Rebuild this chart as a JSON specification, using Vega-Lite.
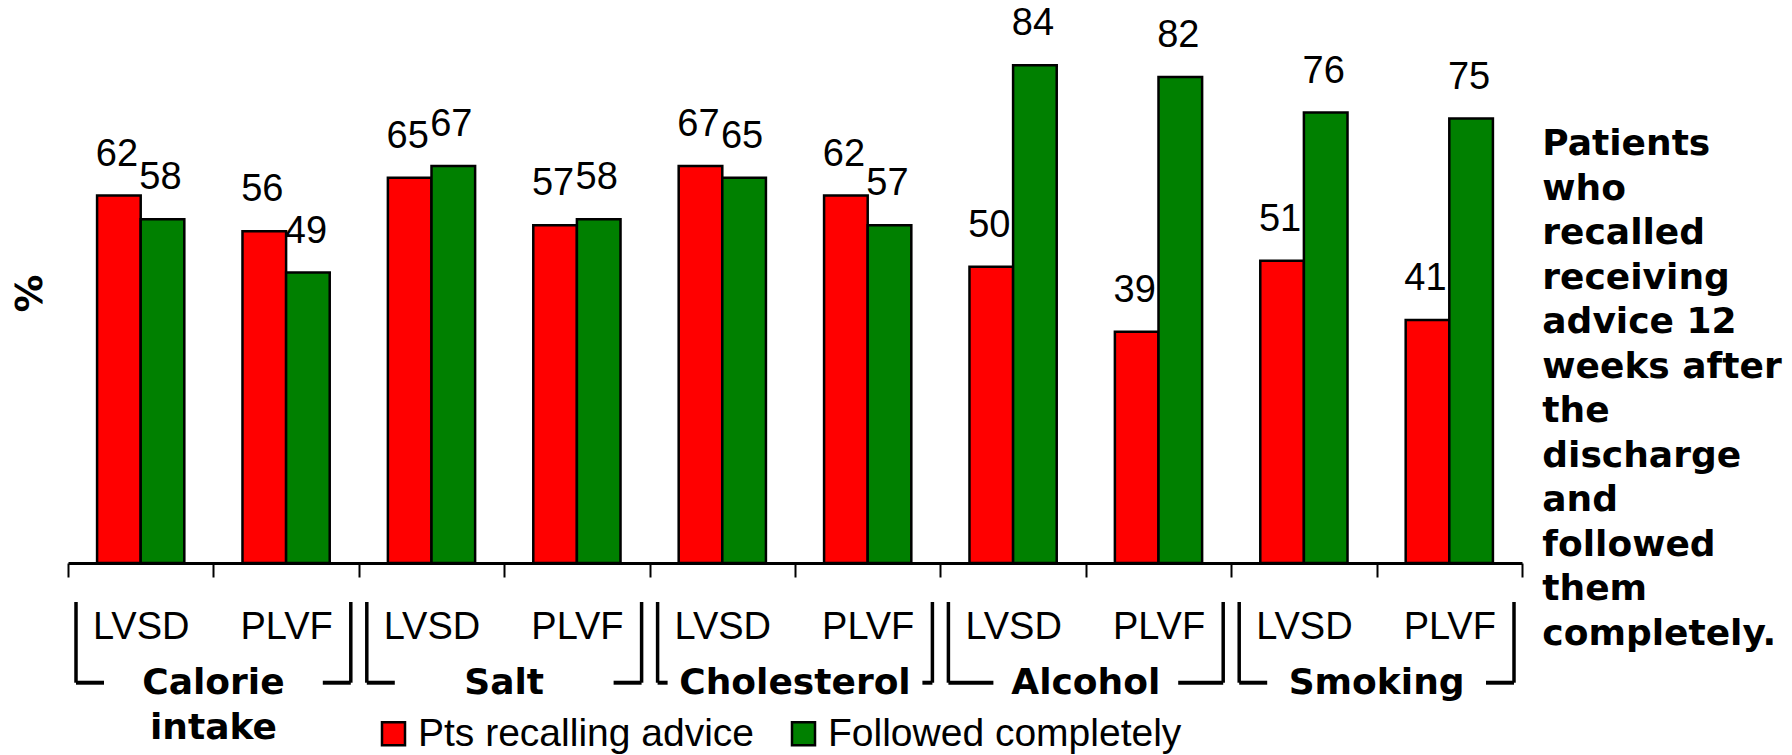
{
  "$schema": "https://vega.github.io/schema/vega-lite/v6.json",
  "autosize": {"type": "none"},
  "padding": {"left": 68, "top": 0, "right": 270, "bottom": 192},
  "width": 1454,
  "height": 563,
  "background": "white",
  "config": {"view": {"stroke": null}, "font": "Liberation Sans"},
  "title": {
    "text": ["Patients", "who", "recalled", "receiving", "advice 12", "weeks after", "the", "discharge", "and", "followed", "them", "completely."],
    "orient": "right",
    "angle": 0,
    "anchor": "start",
    "align": "left",
    "baseline": "alphabetic",
    "font": "DejaVu Sans",
    "fontSize": 36,
    "fontWeight": "bold",
    "lineHeight": 44.5,
    "offset": 23,
    "dx": -243,
    "dy": 155,
    "color": "black"
  },
  "datasets": {
    "bars": [
      {"group": "Calorie intake", "pos": "Calorie intake/LVSD", "series": "Pts recalling advice", "value": 62},
      {"group": "Calorie intake", "pos": "Calorie intake/LVSD", "series": "Followed completely", "value": 58},
      {"group": "Calorie intake", "pos": "Calorie intake/PLVF", "series": "Pts recalling advice", "value": 56},
      {"group": "Calorie intake", "pos": "Calorie intake/PLVF", "series": "Followed completely", "value": 49},
      {"group": "Salt", "pos": "Salt/LVSD", "series": "Pts recalling advice", "value": 65},
      {"group": "Salt", "pos": "Salt/LVSD", "series": "Followed completely", "value": 67},
      {"group": "Salt", "pos": "Salt/PLVF", "series": "Pts recalling advice", "value": 57},
      {"group": "Salt", "pos": "Salt/PLVF", "series": "Followed completely", "value": 58},
      {"group": "Cholesterol", "pos": "Cholesterol/LVSD", "series": "Pts recalling advice", "value": 67},
      {"group": "Cholesterol", "pos": "Cholesterol/LVSD", "series": "Followed completely", "value": 65},
      {"group": "Cholesterol", "pos": "Cholesterol/PLVF", "series": "Pts recalling advice", "value": 62},
      {"group": "Cholesterol", "pos": "Cholesterol/PLVF", "series": "Followed completely", "value": 57},
      {"group": "Alcohol", "pos": "Alcohol/LVSD", "series": "Pts recalling advice", "value": 50},
      {"group": "Alcohol", "pos": "Alcohol/LVSD", "series": "Followed completely", "value": 84},
      {"group": "Alcohol", "pos": "Alcohol/PLVF", "series": "Pts recalling advice", "value": 39},
      {"group": "Alcohol", "pos": "Alcohol/PLVF", "series": "Followed completely", "value": 82},
      {"group": "Smoking", "pos": "Smoking/LVSD", "series": "Pts recalling advice", "value": 51},
      {"group": "Smoking", "pos": "Smoking/LVSD", "series": "Followed completely", "value": 76},
      {"group": "Smoking", "pos": "Smoking/PLVF", "series": "Pts recalling advice", "value": 41},
      {"group": "Smoking", "pos": "Smoking/PLVF", "series": "Followed completely", "value": 75}
    ],
    "groups": [
      {"group": "Calorie intake"},
      {"group": "Salt"},
      {"group": "Cholesterol"},
      {"group": "Alcohol"},
      {"group": "Smoking"}
    ]
  },
  "layer": [
    {
      "data": {"name": "bars"},
      "encoding": {
        "x": {
          "field": "pos",
          "type": "nominal",
          "sort": null,
          "scale": {"paddingInner": 0, "paddingOuter": 0},
          "axis": {
            "title": null,
            "labelExpr": "split(datum.label, '/')[1]",
            "labelAngle": 0,
            "labelFont": "Liberation Sans",
            "labelFontSize": 38,
            "labelColor": "black",
            "labelPadding": 31,
            "labelLimit": 0,
            "tickBand": "extent",
            "tickSize": 14,
            "tickWidth": 2,
            "tickColor": "black",
            "domainColor": "black",
            "domainWidth": 3,
            "grid": false
          }
        },
        "xOffset": {
          "field": "series",
          "type": "nominal",
          "sort": ["Pts recalling advice", "Followed completely"],
          "scale": {"paddingInner": 0, "paddingOuter": 0.6667}
        },
        "y": {
          "field": "value",
          "type": "quantitative",
          "scale": {"domain": [0, 95], "nice": false},
          "axis": {
            "title": "%",
            "domain": false,
            "ticks": false,
            "labels": false,
            "grid": false,
            "titleFont": "DejaVu Sans",
            "titleFontSize": 38,
            "titleFontWeight": "bold",
            "titleColor": "black",
            "titlePadding": 19,
            "titleY": 293
          }
        }
      },
      "layer": [
        {
          "mark": {"type": "bar", "stroke": "black", "strokeWidth": 2.5},
          "encoding": {
            "color": {
              "field": "series",
              "type": "nominal",
              "scale": {"domain": ["Pts recalling advice", "Followed completely"], "range": ["#ff0000", "#008000"]},
              "legend": {
                "orient": "none",
                "legendX": 306,
                "legendY": 714,
                "direction": "horizontal",
                "title": null,
                "padding": 0,
                "symbolType": "square",
                "symbolSize": 529,
                "symbolStrokeColor": "black",
                "symbolStrokeWidth": 2.5,
                "symbolOpacity": 1,
                "labelFont": "Liberation Sans",
                "labelFontSize": 39,
                "labelColor": "black",
                "labelOffset": 5,
                "labelLimit": 0,
                "columnPadding": 30
              }
            }
          }
        },
        {
          "mark": {"type": "text", "baseline": "alphabetic", "dy": -30, "dx": -2, "font": "Liberation Sans", "fontSize": 38, "color": "black"},
          "encoding": {"text": {"field": "value", "type": "quantitative"}}
        }
      ]
    },
    {
      "data": {"name": "groups"},
      "encoding": {
        "x": {"field": "group", "type": "nominal", "sort": null, "scale": {"paddingInner": 0, "paddingOuter": 0}, "axis": null}
      },
      "layer": [
        {
          "mark": {"type": "text", "font": "DejaVu Sans", "fontWeight": "bold", "fontSize": 36, "baseline": "alphabetic", "lineBreak": " ", "lineHeight": 45, "color": "black"},
          "encoding": {
            "text": {"field": "group"},
            "y": {"datum": -22.1, "type": "quantitative"}
          }
        },
        {
          "mark": {"type": "rule", "xOffset": 8, "strokeWidth": 3.5, "color": "black"},
          "encoding": {
            "x": {"field": "group", "type": "nominal", "sort": null, "bandPosition": 0, "axis": null},
            "y": {"datum": -6.58, "type": "quantitative"},
            "y2": {"datum": -20.2}
          }
        },
        {
          "mark": {"type": "rule", "xOffset": -8, "strokeWidth": 3.5, "color": "black"},
          "encoding": {
            "x": {"field": "group", "type": "nominal", "sort": null, "bandPosition": 1, "axis": null},
            "y": {"datum": -6.58, "type": "quantitative"},
            "y2": {"datum": -20.2}
          }
        },
        {
          "mark": {"type": "rule", "xOffset": 8, "x2Offset": {"expr": "8 + (datum.group === 'Cholesterol' ? 10 : datum.group === 'Alcohol' ? 45 : 28)"}, "strokeWidth": 4, "color": "black"},
          "encoding": {
            "x": {"field": "group", "type": "nominal", "sort": null, "bandPosition": 0, "axis": null},
            "x2": {"field": "group", "bandPosition": 0},
            "y": {"datum": -20.2, "type": "quantitative"}
          }
        },
        {
          "mark": {"type": "rule", "xOffset": {"expr": "-8 - (datum.group === 'Cholesterol' ? 10 : datum.group === 'Alcohol' ? 45 : 28)"}, "x2Offset": -8, "strokeWidth": 4, "color": "black"},
          "encoding": {
            "x": {"field": "group", "type": "nominal", "sort": null, "bandPosition": 1, "axis": null},
            "x2": {"field": "group", "bandPosition": 1},
            "y": {"datum": -20.2, "type": "quantitative"}
          }
        }
      ]
    }
  ],
  "resolve": {"scale": {"x": "independent"}}
}
